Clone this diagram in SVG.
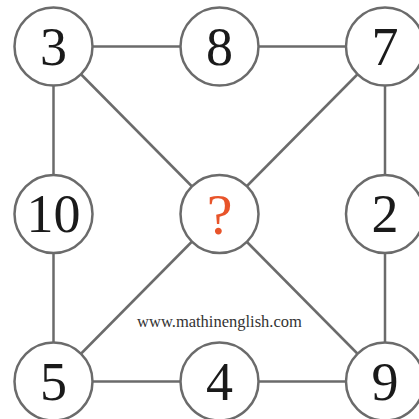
<svg xmlns="http://www.w3.org/2000/svg" width="419" height="419" viewBox="0 0 419 419">
<style>
.e{stroke:#6b6b6b;stroke-width:2.5;fill:none}
.n circle{fill:#fff;stroke:#6b6b6b;stroke-width:2.5}
.n text{font-family:"Liberation Serif","Times New Roman",serif;font-size:54px;fill:#1a1a1a;text-anchor:middle}
.q text{fill:#e8542a;font-size:58px}
.w{font-family:"Liberation Serif","Times New Roman",serif;font-size:16.5px;fill:#333;text-anchor:middle}
</style>
<rect width="419" height="419" fill="#fff"/>
<g id="connectors">
<line class="e" x1="53.5" y1="46.5" x2="385" y2="46.5"/>
<line class="e" x1="53.5" y1="381.5" x2="385" y2="381.5"/>
<line class="e" x1="53.5" y1="46.5" x2="53.5" y2="381.5"/>
<line class="e" x1="385" y1="46.5" x2="385" y2="381.5"/>
<line class="e" x1="53.5" y1="46.5" x2="385" y2="381.5"/>
<line class="e" x1="385" y1="46.5" x2="53.5" y2="381.5"/>
</g>
<g id="n3" class="n"><circle cx="53.5" cy="46.5" r="39"/><text x="53.5" y="64.5">3</text></g>
<g id="n8" class="n"><circle cx="219.5" cy="46.5" r="39"/><text x="219.5" y="64.5">8</text></g>
<g id="n7" class="n"><circle cx="385" cy="46.5" r="39"/><text x="385" y="64.5">7</text></g>
<g id="n10" class="n"><circle cx="53.5" cy="214" r="39"/><text x="53.5" y="232">10</text></g>
<g id="nq" class="n q"><circle cx="219.5" cy="214" r="39"/><text x="219.5" y="234">?</text></g>
<g id="n2" class="n"><circle cx="385" cy="214" r="39"/><text x="385" y="232">2</text></g>
<g id="n5" class="n"><circle cx="53.5" cy="381.5" r="39"/><text x="53.5" y="399.5">5</text></g>
<g id="n4" class="n"><circle cx="219.5" cy="381.5" r="39"/><text x="219.5" y="399.5">4</text></g>
<g id="n9" class="n"><circle cx="385" cy="381.5" r="39"/><text x="385" y="399.5">9</text></g>
<text class="w" x="219.5" y="327">www.mathinenglish.com</text>
</svg>
